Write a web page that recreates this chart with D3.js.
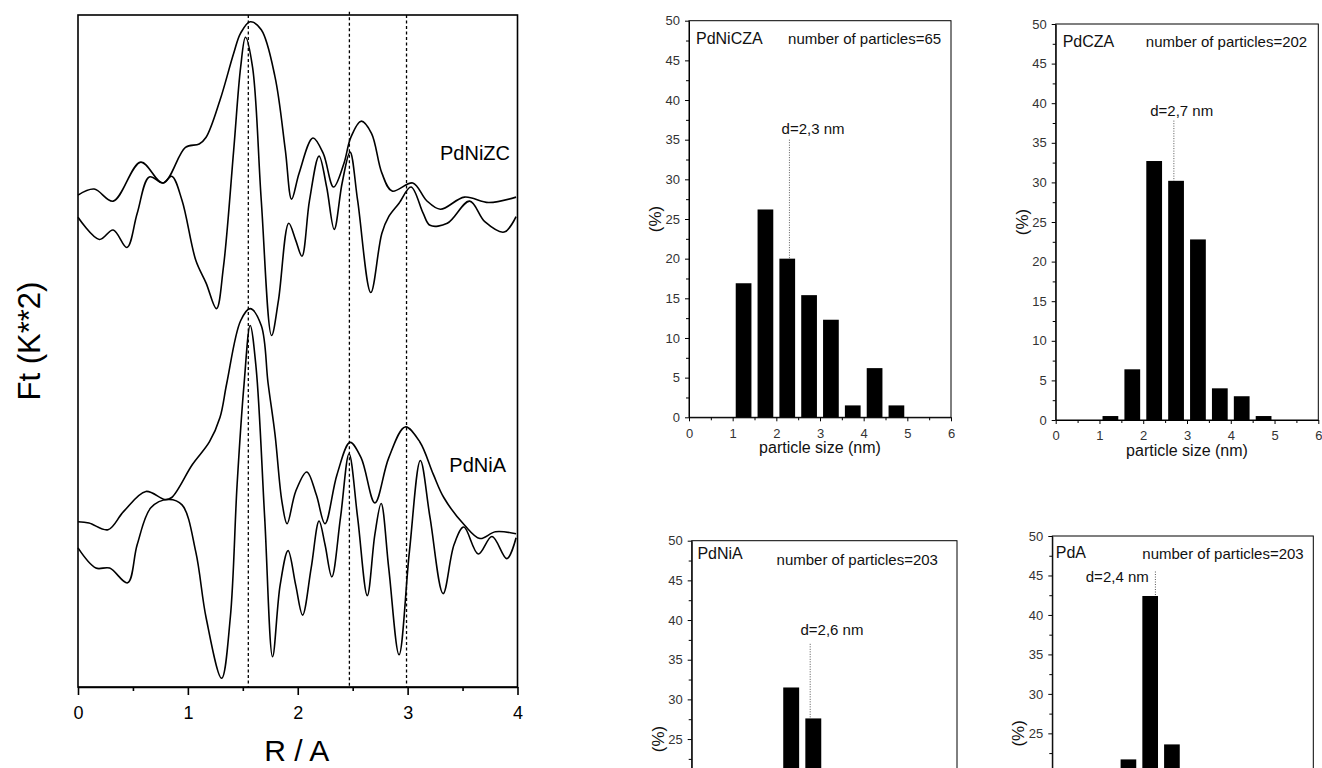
<!DOCTYPE html>
<html>
<head>
<meta charset="utf-8">
<script src="https://cdn.jsdelivr.net/npm/d3@7"></script>
<style>
body { margin: 0; background: #fff; }
svg { display: block; font-family: "Liberation Sans", Arial, sans-serif; }
</style>
</head>
<body>
<div id="chart-area"></div>
<script>
/*
*    FT of EXAFS + particle size histograms
*/

// Fourier transforms, [R (A), amplitude (a.u.)]
var zcMagnitude = [[0,73.2],[0.147,74.1],[0.32,72.3],[0.571,78.1],[0.774,75.0],[0.978,80.3],[1.103,80.8],
    [1.166,81.8],[1.292,87.3],[1.417,94.3],[1.48,97.3],[1.567,99.0],[1.668,97.8],[1.793,90.8],[1.887,79.9],
    [1.944,72.6],[2.013,76.5],[2.138,81.7],[2.232,79.4],[2.326,74.4],[2.42,77.9],[2.483,81.8],[2.577,84.2],
    [2.671,82.4],[2.765,76.5],[2.859,73.8],[3.047,75.0],[3.172,72.4],[3.298,71.1],[3.517,72.9],[3.737,72.1],[3.987,72.9]];
var zcImaginary = [[0,69.9],[0.194,66.6],[0.32,68.0],[0.445,65.4],[0.539,70.5],[0.649,75.9],[0.774,75.0],
    [0.853,76.0],[0.947,72.4],[1.072,63.5],[1.166,60.1],[1.26,56.3],[1.323,62.4],[1.417,79.9],[1.48,92.2],
    [1.524,96.7],[1.589,92.2],[1.668,72.4],[1.762,52.3],[1.824,57.5],[1.918,69.0],[1.981,66.5],[2.038,64.1],
    [2.107,72.4],[2.194,79.0],[2.263,74.4],[2.332,68.1],[2.404,75.0],[2.476,79.6],[2.545,72.4],[2.665,58.7],
    [2.765,67.5],[2.828,70.0],[2.922,72.0],[3.031,74.4],[3.141,70.5],[3.204,68.7],[3.361,69.0],[3.564,72.3],
    [3.705,69.2],[3.878,67.7],[3.987,70.0]];
var aMagnitude = [[0,24.6],[0.1,24.4],[0.273,23.4],[0.414,26.1],[0.618,29.1],[0.79,27.9],[0.853,28.2],
    [1.041,33.1],[1.197,36.5],[1.292,40.1],[1.354,45.2],[1.48,54.5],[1.567,56.3],[1.668,53.8],[1.73,45.2],
    [1.793,37.6],[1.856,27.6],[1.903,24.3],[1.981,29.1],[2.082,32.0],[2.169,28.6],[2.248,24.3],[2.357,31.6],
    [2.476,36.4],[2.577,34.1],[2.702,27.4],[2.828,34.1],[2.978,38.7],[3.11,36.5],[3.235,31.6],[3.329,28.2],
    [3.517,24.1],[3.658,22.1],[3.799,23.1],[3.987,22.8]];
var aImaginary = [[0,20.7],[0.163,17.7],[0.288,17.7],[0.451,15.5],[0.539,21.2],[0.665,26.7],[0.821,27.9],
    [0.947,27.1],[1.072,20.1],[1.166,10.3],[1.307,1.3],[1.386,10.3],[1.448,30.1],[1.511,45.0],[1.567,53.8],
    [1.621,47.5],[1.699,25.2],[1.771,4.5],[1.84,15.2],[1.912,20.3],[1.981,15.2],[2.044,10.7],[2.122,17.7],
    [2.194,24.7],[2.248,21.2],[2.31,16.4],[2.389,25.2],[2.467,34.7],[2.545,25.2],[2.633,13.6],[2.702,22.7],
    [2.759,27.3],[2.828,17.7],[2.922,4.8],[3.016,20.1],[3.116,33.7],[3.204,25.2],[3.323,13.9],[3.423,21.2],
    [3.511,23.8],[3.643,19.8],[3.768,22.4],[3.903,19.1],[3.987,22.2]];
var shellR = [1.55, 2.47, 2.99];
var shellTop = [100, 100.5, 100];
var ftTicks = [0, 1, 2, 3, 4];
var ftMinorTicks = [0.5, 1.5, 2.5, 3.5];

// histograms, % of particles per 0.5 nm bin
var sizeBins = [1.25, 1.75, 2.25, 2.75, 3.25, 3.75, 4.25, 4.75];
var pctPdNiCZA = [16.9, 26.2, 20.0, 15.4, 12.3, 1.5, 6.2, 1.5];
var pctPdCZA = [0.5, 6.4, 32.7, 30.2, 22.8, 4.0, 3.0, 0.5];
var pctPdNiA = [2.0, 14.8, 31.5, 27.6, 17.2, 4.9, 1.5, 0.5];
var pctPdA = [2.5, 21.7, 42.4, 23.6, 7.4, 2.0, 0.5, 0];
var sampleNames = ["PdNiCZA", "PdCZA", "PdNiA", "PdA"];
var particleCounts = [65, 202, 203, 203];
var meanLabels = ["d=2,3 nm", "d=2,7 nm", "d=2,6 nm", "d=2,4 nm"];
var meanX = [2.3, 2.7, 2.68, 2.37];
var meanLineTop = [35.0, 37.8, 37.0, 45.5];
var sizeTicks = [0, 1, 2, 3, 4, 5, 6];
var pctTicks = [0, 5, 10, 15, 20, 25, 30, 35, 40, 45, 50];

var W = 1322, H = 768;
var svg = d3.select("#chart-area")
    .append("svg")
    .attr("width", W)
    .attr("height", H);

// ---------- FT panel ----------
var ft = {left: 78, right: 517.5, top: 15, bottom: 687};
var x = d3.scaleLinear().domain([0, 4]).range([ft.left, ft.right]);
var y = d3.scaleLinear().domain([0, 100]).range([ft.bottom, ft.top]);

var g = svg.append("g");

g.selectAll(".shell").data(shellR).enter().append("line")
    .attr("class", "shell")
    .attr("x1", (d) => { return x(d); })
    .attr("x2", (d) => { return x(d); })
    .attr("y1", (d, i) => { return y(shellTop[i]); })
    .attr("y2", y(0))
    .attr("stroke", "#000")
    .attr("stroke-width", 1.3)
    .attr("stroke-dasharray", "3,2.5");

var line = d3.line()
    .x((d) => { return x(d[0]); })
    .y((d) => { return y(d[1]); })
    .curve(d3.curveCatmullRom.alpha(0.5));

[zcMagnitude, zcImaginary, aMagnitude, aImaginary].forEach((s) => {
    g.append("path")
        .datum(s)
        .attr("d", line)
        .attr("fill", "none")
        .attr("stroke", "#000")
        .attr("stroke-width", 1.6);
});

g.append("rect")
    .attr("x", ft.left).attr("y", ft.top)
    .attr("width", ft.right - ft.left).attr("height", ft.bottom - ft.top)
    .attr("fill", "none").attr("stroke", "#000").attr("stroke-width", 1.6);

var xAxisGroup = g.append("g")
    .attr("transform", "translate(0, " + ft.bottom + ")")
    .call(d3.axisBottom(x).tickValues(ftTicks).tickSize(8).tickSizeOuter(0).tickPadding(11).tickFormat(d3.format("d")));
xAxisGroup.selectAll("line,path").attr("stroke-width", 1.6);
xAxisGroup.selectAll("text").attr("font-size", "18px").attr("font-family", null).style("fill", "#000");

var xMinor = g.append("g")
    .attr("transform", "translate(0, " + ft.bottom + ")")
    .call(d3.axisBottom(x).tickValues(ftMinorTicks).tickSize(4).tickSizeOuter(0).tickFormat(""));
xMinor.selectAll("line").attr("stroke-width", 1.6);
xMinor.select(".domain").remove();

g.append("text")
    .attr("x", (ft.left + ft.right) / 2 - 1)
    .attr("y", 761)
    .attr("font-size", "30px")
    .attr("text-anchor", "middle")
    .text("R / A");

g.append("text")
    .attr("transform", "translate(40, 341) rotate(-90)")
    .attr("font-size", "31px")
    .attr("text-anchor", "middle")
    .text("Ft (K**2)");

g.append("text").attr("x", 510).attr("y", 160).attr("font-size", "20px")
    .attr("text-anchor", "end").text("PdNiZC");
g.append("text").attr("x", 506).attr("y", 472).attr("font-size", "20px")
    .attr("text-anchor", "end").text("PdNiA");

// ---------- histogram panels ----------
var panels = [
    {values: pctPdNiCZA, left: 689, right: 951, top: 20.7, bottom: 417.3,
        name: [0.16, 47.8], count: [2.27, 47.8], mean: [2.12, 36.4]},
    {values: pctPdCZA, left: 1055.7, right: 1318.3, top: 24, bottom: 420,
        name: [0.16, 47.8], count: [2.06, 47.8], mean: [2.16, 39.1]},
    {values: pctPdNiA, left: 691.7, right: 957, top: 540.7, bottom: 937.4,
        name: [0.13, 48.4], count: [1.92, 47.6], mean: [2.46, 38.8]},
    {values: pctPdA, left: 1052.3, right: 1313.3, top: 536, bottom: 930.7,
        name: [0.08, 48.0], count: [2.07, 47.8], mean: [0.77, 44.8]}
];

panels.forEach((p, i) => {
    var hx = d3.scaleLinear().domain([0, 6]).range([p.left, p.right]);
    var hy = d3.scaleLinear().domain([0, 50]).range([p.bottom, p.top]);
    var hg = svg.append("g");
    var barW = hx(0.36) - hx(0);

    hg.selectAll("rect.bar").data(p.values).enter().append("rect")
        .attr("class", "bar")
        .attr("x", (d, j) => { return hx(sizeBins[j]) - barW / 2; })
        .attr("y", (d) => { return hy(d); })
        .attr("width", barW)
        .attr("height", (d) => { return p.bottom - hy(d); })
        .attr("fill", "#000");

    hg.append("line")
        .attr("x1", hx(meanX[i])).attr("x2", hx(meanX[i]))
        .attr("y1", hy(meanLineTop[i]))
        .attr("y2", hy(p.values[sizeBins.findIndex((b) => { return meanX[i] < b + 0.25; })]))
        .attr("stroke", "#555").attr("stroke-width", 1).attr("stroke-dasharray", "1,1.5");

    hg.append("rect")
        .attr("x", p.left).attr("y", p.top)
        .attr("width", p.right - p.left).attr("height", p.bottom - p.top)
        .attr("fill", "none").attr("stroke", "#000").attr("stroke-width", 1);

    var yAx = hg.append("g").attr("transform", "translate(" + p.left + ",0)")
        .call(d3.axisLeft(hy).tickValues(pctTicks).tickSize(4).tickSizeOuter(0).tickPadding(5));
    yAx.selectAll("text").attr("font-size", "13px").attr("font-family", null).style("fill", "#333");
    var yMin = hg.append("g").attr("transform", "translate(" + p.left + ",0)")
        .call(d3.axisLeft(hy).tickValues(d3.range(2.5, 50, 5)).tickSize(3).tickFormat(""));
    yMin.select(".domain").remove();

    var xAx = hg.append("g").attr("transform", "translate(0," + p.bottom + ")")
        .call(d3.axisBottom(hx).tickValues(sizeTicks).tickSize(4).tickSizeOuter(0).tickPadding(7)
            .tickFormat(d3.format("d")));
    xAx.selectAll("text").attr("font-size", "13px").attr("font-family", null).style("fill", "#333");
    var xMin = hg.append("g").attr("transform", "translate(0," + p.bottom + ")")
        .call(d3.axisBottom(hx).tickValues(d3.range(0.5, 6, 1)).tickSize(3).tickFormat(""));
    xMin.select(".domain").remove();

    hg.append("text")
        .attr("x", (p.left + p.right) / 2).attr("y", p.bottom + 36)
        .attr("font-size", "16px").attr("text-anchor", "middle").attr("fill", "#111")
        .text("particle size (nm)");

    hg.append("text")
        .attr("transform", "translate(" + (p.left - 28) + "," + ((p.top + p.bottom) / 2) + ") rotate(-90)")
        .attr("font-size", "17px").attr("text-anchor", "middle").attr("fill", "#111")
        .text("(%)");

    hg.append("text")
        .attr("x", hx(p.name[0])).attr("y", hy(p.name[1])).attr("dy", "0.36em")
        .attr("font-size", "16px").attr("fill", "#111")
        .text(sampleNames[i]);
    hg.append("text")
        .attr("x", hx(p.count[0])).attr("y", hy(p.count[1])).attr("dy", "0.36em")
        .attr("font-size", "15px").attr("fill", "#111")
        .text("number of particles=" + particleCounts[i]);
    hg.append("text")
        .attr("x", hx(p.mean[0])).attr("y", hy(p.mean[1])).attr("dy", "0.36em")
        .attr("font-size", "15px").attr("fill", "#111")
        .text(meanLabels[i]);
});

// the lower panels run past the bottom of the figure: drop texts that fall outside it
svg.selectAll("text").each(function () {
    var b = this.getBoundingClientRect();
    if (b.top >= H - 4) d3.select(this).remove();
});
</script>
</body>
</html>
